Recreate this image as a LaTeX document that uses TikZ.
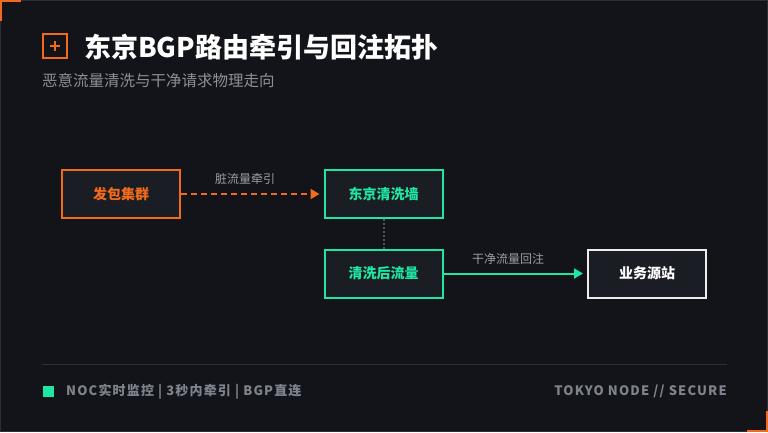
\documentclass[tikz,border=0pt]{standalone}
\usepackage{fontspec}
\setmainfont{Noto Sans CJK SC}
\newfontfamily\footfont[LetterSpace=9]{Noto Sans CJK SC}
\usetikzlibrary{arrows.meta}
\definecolor{bgdark}{HTML}{121419}
\definecolor{panel}{HTML}{1A1D23}
\definecolor{frameline}{HTML}{2C2F36}
\definecolor{attackorange}{HTML}{F26A1B}
\definecolor{cleangreen}{HTML}{1FE6A0}
\definecolor{originwhite}{HTML}{ECECEE}
\definecolor{labelgrey}{HTML}{9A9EA6}
\definecolor{subgrey}{HTML}{8A8F98}
\definecolor{footgrey}{HTML}{7E838D}
\definecolor{dotgrey}{HTML}{50545C}

\begin{document}
\begin{tikzpicture}[x=1pt, y=-1pt, >={Triangle[length=9pt,width=10pt]},
    netbox/.style={draw, line width=2pt, fill=panel, minimum width=118pt, minimum height=48pt, inner sep=0pt, font=\fontsize{14}{16}\selectfont\bfseries},
    edgelabel/.style={font=\fontsize{12}{14}\selectfont, text=labelgrey, above=5pt}]
    \fill[bgdark] (0,0) rectangle (768,432);
    \useasboundingbox (0,0) rectangle (768,432);
    \draw[frameline, line width=1pt] (0.5,0.5) rectangle (767.5,431.5);
    \draw[attackorange, line width=2.5pt] (1.2,21) -- (1.2,1.2) -- (21,1.2);
    \draw[attackorange, line width=2.5pt] (747,430.8) -- (766.8,430.8) -- (766.8,411);
    \draw[attackorange, line width=2pt] (43,34) rectangle (67,58);
    \draw[attackorange, line width=2pt] (50,46) -- (60,46) (55,41) -- (55,51);
    \node[anchor=west, inner sep=0pt, text=white, font=\fontsize{27}{31}\selectfont\bfseries] (title) at (84,47) {东京BGP路由牵引与回注拓扑};
    \node[anchor=west, inner sep=0pt, text=subgrey, font=\fontsize{15.5}{18}\selectfont] (subtitle) at (42,81) {恶意流量清洗与干净请求物理走向};
    \node[netbox, draw=attackorange, text=attackorange] (cluster) at (121,194) {发包集群};
    \node[netbox, draw=cleangreen, text=cleangreen] (scrubber) at (383.5,194) {东京清洗墙};
    \node[netbox, draw=cleangreen, text=cleangreen] (cleaned) at (383.5,273.5) {清洗后流量};
    \node[netbox, draw=originwhite, text=white] (origin) at (647,273.5) {业务源站};
    \draw[->, attackorange, line width=2pt, dash pattern=on 6pt off 4pt, shorten >=4pt] (cluster) -- (scrubber) node[edgelabel, pos=0.45] {脏流量牵引};
    \draw[dotgrey, line width=2pt, dash pattern=on 2pt off 2pt] (scrubber) -- (cleaned);
    \draw[->, cleangreen, line width=2pt, shorten >=4pt] (cleaned) -- (origin) node[edgelabel, pos=0.45] {干净流量回注};
    \draw[frameline, line width=1pt] (42,364) -- (727,364);
    \fill[cleangreen] (43,386) rectangle (54,397);
    \node[anchor=west, inner sep=0pt, text=footgrey, font=\footfont\fontsize{13}{15}\selectfont\bfseries] (status) at (66,391.5) {NOC实时监控 | 3秒内牵引 | BGP直连};
    \node[anchor=east, inner sep=0pt, text=footgrey, font=\footfont\fontsize{13}{15}\selectfont\bfseries] (site) at (727,391.5) {TOKYO NODE // SECURE};
\end{tikzpicture}
\end{document}
